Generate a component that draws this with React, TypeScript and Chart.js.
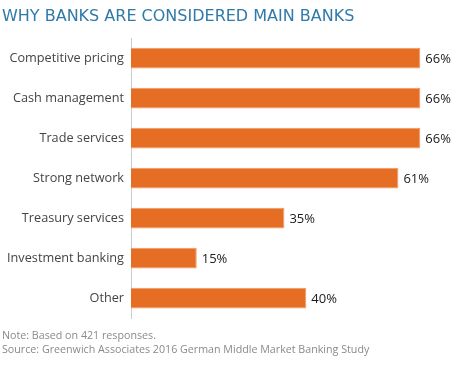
import React, { useEffect, useRef } from "react";
import { Chart, registerables } from "chart.js";

Chart.register(...registerables);

const categories = [
  "Competitive pricing",
  "Cash management",
  "Trade services",
  "Strong network",
  "Treasury services",
  "Investment banking",
  "Other",
];
const values = [66, 66, 66, 61, 35, 15, 40];
const titleText = "WHY BANKS ARE CONSIDERED MAIN BANKS";
const footnotes = [
  "Note: Based on 421 responses.",
  "Source: Greenwich Associates 2016 German Middle Market Banking Study",
];

const FONT = "'Open Sans', 'DejaVu Sans', sans-serif";

const valueLabels = {
  id: "valueLabels",
  afterDatasetsDraw(chart: any) {
    const ctx = chart.ctx;
    const meta = chart.getDatasetMeta(0);
    ctx.save();
    ctx.font = `13px ${FONT}`;
    ctx.fillStyle = "#1a1a1a";
    ctx.textAlign = "left";
    ctx.textBaseline = "middle";
    meta.data.forEach((bar: any, i: number) => {
      ctx.fillText(`${values[i]}%`, bar.x + 5, bar.y + 1);
    });
    ctx.restore();
  },
};

export default function App() {
  const ref = useRef<HTMLCanvasElement>(null);
  useEffect(() => {
    document.body.style.margin = "0";
    const chart = new Chart(ref.current!, {
      type: "bar",
      data: {
        labels: categories,
        datasets: [
          {
            data: values,
            backgroundColor: "#e66d24",
            borderColor: "#ef9a66",
            borderWidth: 1,
            categoryPercentage: 1,
            barPercentage: 0.52,
          },
        ],
      },
      options: {
        indexAxis: "y",
        animation: false,
        responsive: false,
        maintainAspectRatio: false,
        layout: { padding: { left: 2, right: 5, top: 0, bottom: 0 } },
        scales: {
          x: { display: false, min: 0, max: 73 },
          y: {
            afterFit: (s: any) => {
              s.width = 129;
            },
            grid: { display: false, drawTicks: false },
            border: { display: true, color: "#cccccc", width: 1 },
            ticks: {
              padding: 7,
              color: "#444",
              font: { family: FONT, size: 12.7 },
            },
          },
        },
        plugins: {
          legend: { display: false },
          tooltip: { enabled: false },
          title: {
            display: true,
            text: titleText,
            align: "start",
            color: "#2f7aa8",
            font: { family: "'DejaVu Sans', sans-serif", size: 16, weight: "normal", lineHeight: 1.2 },
            padding: { top: 7, bottom: 12 },
          },
          subtitle: {
            display: true,
            position: "bottom",
            text: footnotes,
            align: "start",
            color: "#8a8a8a",
            font: { family: FONT, size: 10.7, weight: "normal", lineHeight: 1.3 },
            padding: { top: 11, bottom: 9 },
          },
        },
      },
      plugins: [valueLabels],
    });
    return () => chart.destroy();
  }, []);
  return <canvas ref={ref} width={456} height={366} />;
}
